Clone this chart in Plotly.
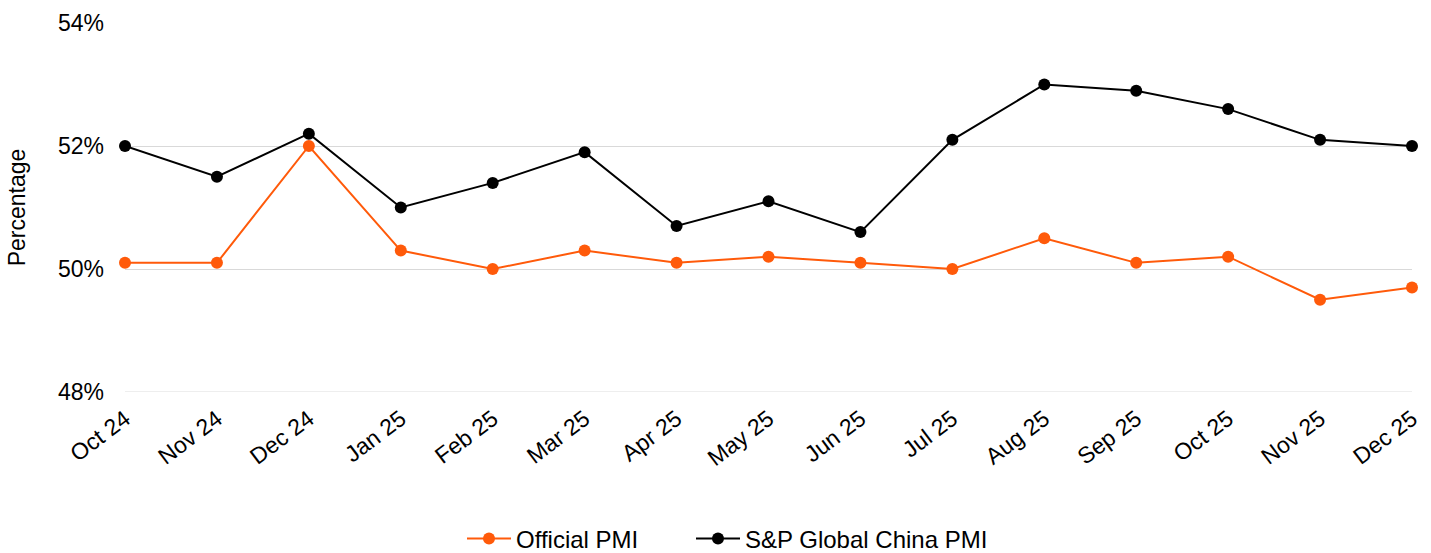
import plotly.graph_objects as go

months = ["Oct 24", "Nov 24", "Dec 24", "Jan 25", "Feb 25", "Mar 25", "Apr 25",
          "May 25", "Jun 25", "Jul 25", "Aug 25", "Sep 25", "Oct 25", "Nov 25", "Dec 25"]
official_pmi = [50.1, 50.1, 52.0, 50.3, 50.0, 50.3, 50.1, 50.2, 50.1, 50.0, 50.5, 50.1, 50.2, 49.5, 49.7]
sp_global_pmi = [52.0, 51.5, 52.2, 51.0, 51.4, 51.9, 50.7, 51.1, 50.6, 52.1, 53.0, 52.9, 52.6, 52.1, 52.0]
y_ticks = [48, 50, 52, 54]
y_tick_text = ["48%", "50%", "52%", "54%"]

ORANGE = "#FF5A0A"
BLACK = "#000000"
FS = 23

fig = go.Figure()
fig.add_trace(go.Scatter(
    x=months, y=official_pmi, name="Official PMI", mode="lines+markers",
    line=dict(color=ORANGE, width=2), marker=dict(color=ORANGE, size=12),
    cliponaxis=False, legend="legend",
))
fig.add_trace(go.Scatter(
    x=months, y=sp_global_pmi, name="S&P Global China PMI", mode="lines+markers",
    line=dict(color=BLACK, width=2), marker=dict(color=BLACK, size=12),
    cliponaxis=False, legend="legend2",
))

# lighter baseline gridline at the bottom of the axis
fig.add_hline(y=y_ticks[0], line=dict(color="#EEEEEE", width=2), layer="below")

legend_common = dict(orientation="h", xanchor="left", yref="container",
                     y=1 - 539 / 553, yanchor="middle", font=dict(size=24),
                     itemwidth=44, bgcolor="rgba(0,0,0,0)")

fig.update_layout(
    width=1431, height=553,
    margin=dict(l=125, r=19, t=23, b=161, autoexpand=False),
    paper_bgcolor="white", plot_bgcolor="white",
    font=dict(family="Liberation Sans, Arial, sans-serif", size=FS, color="#000000"),
    showlegend=True,
    legend=dict(x=(462 - 125) / 1287, **legend_common),
    legend2=dict(x=(691 - 125) / 1287, **legend_common),
    xaxis=dict(type="category", range=[0, 14], showgrid=False, showline=False, zeroline=False,
               tickangle=-37, ticks="", automargin=False, ticklabelstandoff=8,
               tickfont=dict(size=FS)),
    yaxis=dict(range=[48, 54], tickvals=y_ticks, ticktext=y_tick_text,
               showgrid=True, gridcolor="#D9D9D9", gridwidth=1, zeroline=False,
               showline=False, ticks="", ticklabelstandoff=20, automargin=False,
               title=dict(text="Percentage", font=dict(size=FS), standoff=25),
               tickfont=dict(size=FS)),
)

fig.write_html("out.html")
